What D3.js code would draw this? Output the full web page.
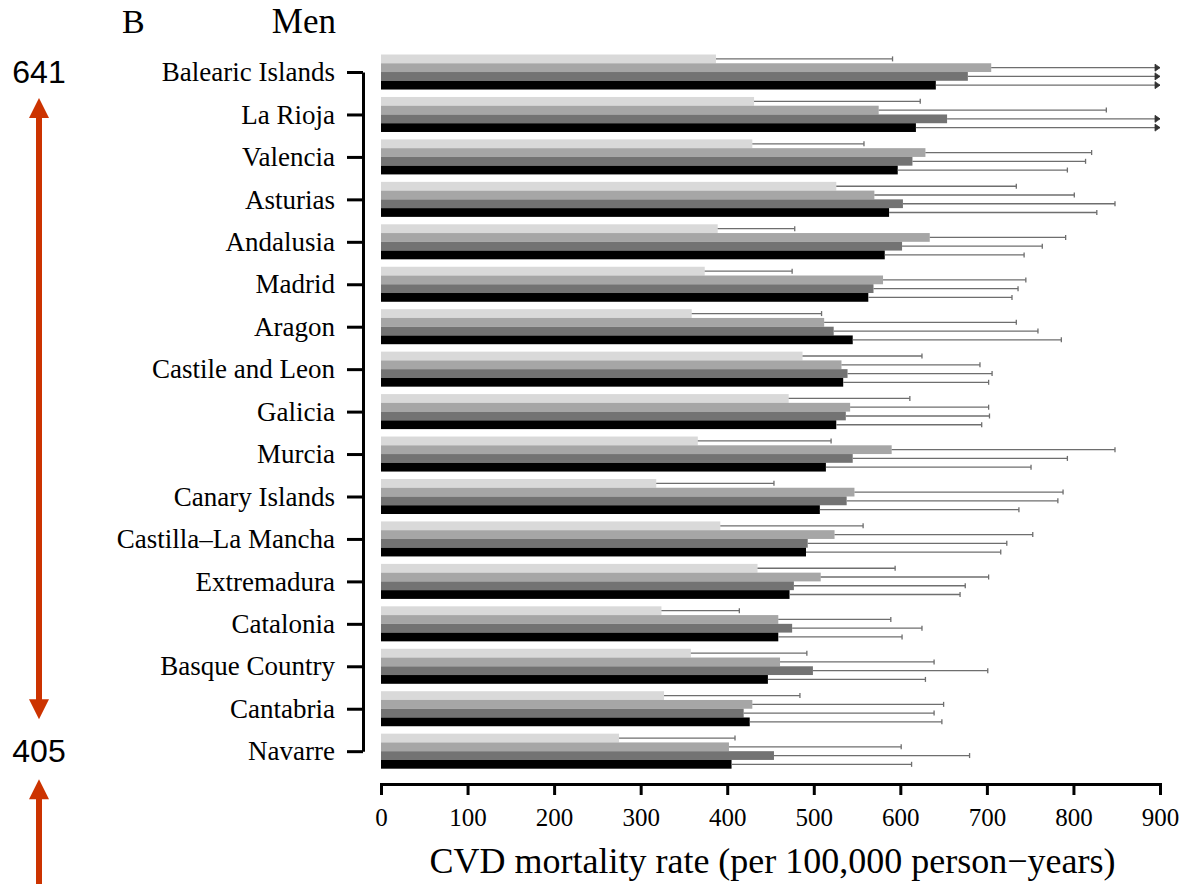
<!DOCTYPE html>
<html>
<head>
<meta charset="utf-8">
<script src="https://cdn.jsdelivr.net/npm/d3@7"></script>
<style>
  body { margin: 0; background: #fff; }
  svg { display: block; }
</style>
</head>
<body>
<script>
// regions, sorted by the overall (black) rate
const regions = ["Balearic Islands", "La Rioja", "Valencia", "Asturias", "Andalusia", "Madrid",
  "Aragon", "Castile and Leon", "Galicia", "Murcia", "Canary Islands", "Castilla\u2013La Mancha",
  "Extremadura", "Catalonia", "Basque Country", "Cantabria", "Navarre"];

// bar values, one array per series (top bar to bottom bar in each group)
const series1 = [387, 431, 429, 526, 389, 374, 359, 487, 471, 366, 318, 392, 435, 324, 358, 327, 275];
const series2 = [705, 575, 629, 570, 634, 580, 512, 532, 542, 590, 547, 524, 508, 459, 461, 429, 402];
const series3 = [678, 654, 614, 603, 602, 569, 523, 539, 537, 545, 538, 493, 477, 475, 499, 419, 454];
const series4 = [641, 618, 597, 587, 582, 563, 545, 534, 526, 514, 507, 491, 472, 459, 447, 426, 405];

// upper confidence limits (values past 900 run off the axis)
const upper1 = [591, 623, 558, 734, 478, 475, 509, 625, 611, 520, 454, 557, 594, 414, 492, 484, 409];
const upper2 = [960, 838, 821, 801, 791, 745, 734, 692, 702, 848, 788, 753, 702, 589, 639, 650, 601];
const upper3 = [960, 960, 814, 848, 764, 736, 759, 706, 703, 793, 782, 723, 675, 625, 701, 639, 680];
const upper4 = [960, 960, 793, 827, 743, 729, 786, 702, 694, 751, 737, 716, 669, 602, 629, 648, 613];

const xTicks = [0, 100, 200, 300, 400, 500, 600, 700, 800, 900];
const seriesNames = ["s1", "s2", "s3", "s4"];
const colors = ["#d9d9d9", "#a6a6a6", "#737373", "#000000"];
const rangeLabels = ["641", "405"];

const values = [series1, series2, series3, series4];
const uppers = [upper1, upper2, upper3, upper4];

const width = 1184, height = 884;
const serif = "'Liberation Serif', 'Times New Roman', serif";
const sans = "'Liberation Sans', Arial, sans-serif";
const arrowColor = "#cc3300";

const svg = d3.select("body").append("svg")
  .attr("width", width)
  .attr("height", height);

const x = d3.scaleLinear().domain([0, 900]).range([381, 1160]);

const y = d3.scaleBand()
  .domain(regions)
  .range([50.8, 772.4])
  .paddingInner(0.175)
  .paddingOuter(0.0875);

const ySub = d3.scaleBand().domain(seriesNames).range([0, y.bandwidth()]);

// rows: one object per region and series
const rows = [];
regions.forEach((r, i) => {
  seriesNames.forEach((s, j) => {
    rows.push({ region: r, s: s, j: j, v: values[j][i], hi: uppers[j][i] });
  });
});

// bars
svg.append("g").selectAll("rect")
  .data(rows)
  .join("rect")
  .attr("x", x(0))
  .attr("y", d => y(d.region) + ySub(d.s))
  .attr("width", d => x(d.v) - x(0))
  .attr("height", ySub.bandwidth())
  .attr("fill", d => colors[d.j]);

// error bars (upper half only, lower half sits under the bar)
const errG = svg.append("g").attr("stroke", "#6e6e6e").attr("stroke-width", 1.3);
const xMax = x.domain()[1];
rows.forEach(d => {
  const cy = y(d.region) + ySub(d.s) + ySub.bandwidth() / 2;
  const end = Math.min(d.hi, xMax);
  errG.append("line")
    .attr("x1", x(d.v)).attr("x2", x(end))
    .attr("y1", cy).attr("y2", cy);
  if (d.hi > xMax) {
    errG.append("path")
      .attr("d", `M${x(end) - 5},${cy - 3.5}L${x(end)},${cy}L${x(end) - 5},${cy + 3.5}Z`)
      .attr("fill", "#333").attr("stroke", "#333").attr("stroke-width", 0.8);
  } else {
    errG.append("line")
      .attr("x1", x(end)).attr("x2", x(end))
      .attr("y1", cy - 2.5).attr("y2", cy + 2.5);
  }
});

// y axis: bracket through the group centres
const yPoint = d3.scalePoint()
  .domain(regions)
  .range([y(regions[0]) + y.bandwidth() / 2, y(regions[regions.length - 1]) + y.bandwidth() / 2]);

const yAxisG = svg.append("g")
  .attr("transform", "translate(363,0)")
  .call(d3.axisLeft(yPoint).tickSize(16).tickSizeOuter(0).tickPadding(12));
yAxisG.selectAll("path, line").attr("stroke", "#000").attr("stroke-width", 3);
yAxisG.selectAll("text")
  .attr("font-family", serif)
  .attr("font-size", 27)
  .attr("fill", "#000");

// x axis
const xAxisG = svg.append("g")
  .attr("transform", "translate(0,784)")
  .call(d3.axisBottom(x).tickValues(xTicks).tickSize(11).tickSizeOuter(0).tickPadding(13));
xAxisG.selectAll("path, line").attr("stroke", "#000").attr("stroke-width", 3);
xAxisG.select(".domain").attr("stroke-linecap", "square");
xAxisG.selectAll("text")
  .attr("font-family", serif)
  .attr("font-size", 25)
  .attr("fill", "#000");

svg.append("text")
  .attr("x", (x.range()[0] + x.range()[1]) / 2 + 2)
  .attr("y", 873)
  .attr("text-anchor", "middle")
  .attr("font-family", serif)
  .attr("font-size", 36)
  .text("CVD mortality rate (per 100,000 person\u2212years)");

// panel titles
svg.append("text")
  .attr("x", 122).attr("y", 33)
  .attr("font-family", serif).attr("font-size", 34)
  .text("B");
svg.append("text")
  .attr("x", 336).attr("y", 33)
  .attr("text-anchor", "end")
  .attr("font-family", serif).attr("font-size", 35)
  .text("Men");

// range annotation on the left
const ax = 39;
const topVal = yPoint(regions[0]);
const botVal = yPoint(regions[regions.length - 1]);

svg.append("text")
  .attr("x", ax).attr("y", topVal + 11)
  .attr("text-anchor", "middle")
  .attr("font-family", sans).attr("font-size", 32)
  .text(rangeLabels[0]);
svg.append("text")
  .attr("x", ax).attr("y", botVal + 11)
  .attr("text-anchor", "middle")
  .attr("font-family", sans).attr("font-size", 32)
  .text(rangeLabels[1]);

const arrowG = svg.append("g").attr("fill", arrowColor).attr("stroke", arrowColor);
function head(tipY, dir) {
  // dir = -1 points up, 1 points down
  arrowG.append("path")
    .attr("stroke", "none")
    .attr("d", `M${ax},${tipY}L${ax - 10},${tipY - dir * 20}L${ax + 10},${tipY - dir * 20}Z`);
}
const a1Top = topVal + 26, a1Bot = botVal - 32;
arrowG.append("line")
  .attr("x1", ax).attr("x2", ax)
  .attr("y1", a1Top + 15).attr("y2", a1Bot - 15)
  .attr("stroke-width", 6);
head(a1Top, -1);
head(a1Bot, 1);

const a2Top = botVal + 28;
arrowG.append("line")
  .attr("x1", ax).attr("x2", ax)
  .attr("y1", a2Top + 15).attr("y2", height)
  .attr("stroke-width", 6);
head(a2Top, -1);
</script>
</body>
</html>
